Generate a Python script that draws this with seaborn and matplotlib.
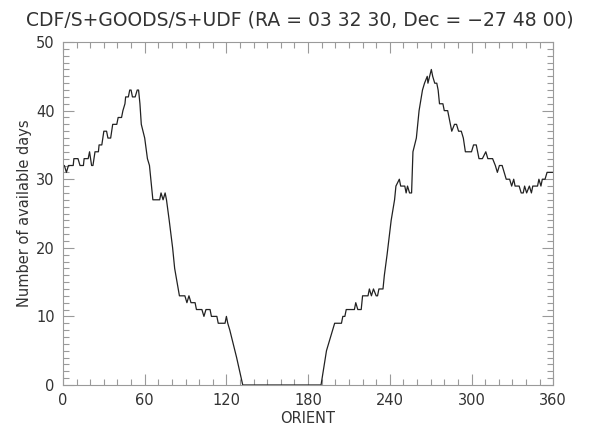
import pandas as pd
import matplotlib
matplotlib.use("Agg")
import matplotlib.pyplot as plt
import seaborn as sns
from matplotlib.ticker import MultipleLocator

# values (orient in degrees, number of available days)
orient = [0, 1, 2.5, 4, 7.5, 8, 11, 12.5, 15, 15.5, 18.5, 19.5, 21, 22, 23.5, 26,
          26.5, 28.5, 30, 32, 33, 35, 36.5, 39.5, 40.5, 43, 44, 45.5, 46, 48,
          49, 50, 51, 53, 54.5, 55.5, 56.5, 57.5, 60, 62, 63.5, 66, 71, 72,
          73.5, 75, 76, 78, 80.5, 82, 85.5, 89.5, 91, 92.5, 94, 97, 98, 102,
          103.5, 105, 108, 109, 113, 114, 119, 120, 121, 122.5, 127.5, 132,
          189.5, 193.5, 199.5, 204.5, 205.5, 207, 208, 214, 215, 216.5, 219,
          220, 224, 225, 226.5, 228, 230, 231, 232, 235, 236, 238, 241, 243.5,
          244.5, 247, 248, 251, 252, 253, 254.5, 256, 257, 259.5, 261.5, 264,
          265.5, 267.5, 268, 270.5, 271.5, 273, 274.5, 275.5, 276.5, 279, 280,
          282.5, 283.5, 285.5, 287.5, 289, 290.5, 292.5, 294, 295.5, 300,
          301.5, 303.5, 305.5, 308, 310.5, 312, 315.5, 317.5, 319, 320.5, 322.5,
          324, 325.5, 328, 329.5, 331, 332, 335, 336.5, 338, 339, 340.5, 342.5,
          344, 345, 348.5, 349.5, 351, 352, 354, 355.5, 360]
days = [32, 32, 31, 32, 32, 33, 33, 32, 32, 33, 33, 34, 32, 32, 34, 34,
        35, 35, 37, 37, 36, 36, 38, 38, 39, 39, 40, 41, 42, 42,
        43, 43, 42, 42, 43, 43, 41, 38, 36, 33, 32, 27, 27, 28,
        27, 28, 27, 24, 20, 17, 13, 13, 12, 13, 12, 12, 11, 11,
        10, 11, 11, 10, 10, 9, 9, 10, 9, 8, 4, 0,
        0, 5, 9, 9, 10, 10, 11, 11, 12, 11, 11,
        13, 13, 14, 13, 14, 13, 13, 14, 14, 16, 19, 24, 27,
        29, 30, 29, 29, 28, 29, 28, 28, 34, 36, 40, 43,
        44, 45, 44, 46, 45, 44, 44, 43, 41, 41, 40,
        40, 39, 37, 38, 38, 37, 37, 36, 34, 34,
        35, 35, 33, 33, 34, 33, 33, 32, 31, 32, 32,
        31, 30, 30, 29, 30, 29, 29, 28, 28, 29, 28, 29,
        28, 29, 29, 30, 29, 30, 30, 31, 31]

df = pd.DataFrame({"ORIENT": orient, "days": days})

sns.set_style("ticks")
plt.rcParams["font.family"] = ["DejaVu Sans"]

fig = plt.figure(figsize=(6, 4.29), dpi=100)
ax = fig.add_axes([0.105, 0.1026, 0.817, 0.7994])

sns.lineplot(data=df, x="ORIENT", y="days", ax=ax, sort=False, estimator=None,
             color="#222222", linewidth=0.9)

ax.set_xlim(0, 360)
ax.set_ylim(0, 50)
ax.xaxis.set_major_locator(MultipleLocator(60))
ax.xaxis.set_minor_locator(MultipleLocator(10))
ax.yaxis.set_major_locator(MultipleLocator(10))
ax.yaxis.set_minor_locator(MultipleLocator(1))

axcol = "#9a9a9a"
txtcol = "#333333"
for s in ax.spines.values():
    s.set_visible(True)
    s.set_color(axcol)
    s.set_linewidth(0.8)
ax.tick_params(which="both", direction="in", top=True, right=True,
               color=axcol, width=0.8, labelsize=10.5, labelcolor=txtcol)
ax.tick_params(which="major", length=8, pad=6)
ax.tick_params(which="minor", length=4)

ax.set_xlabel("ORIENT", fontsize=10.5, color=txtcol, labelpad=2)
ax.set_ylabel("Number of available days", fontsize=10.5, color=txtcol, labelpad=3)
fig.suptitle("CDF/S+GOODS/S+UDF (RA = 03 32 30, Dec = \u221227 48 00)",
             x=0.5, y=0.975, fontsize=13.5, color=txtcol)

fig.savefig("out.png", dpi=100)
